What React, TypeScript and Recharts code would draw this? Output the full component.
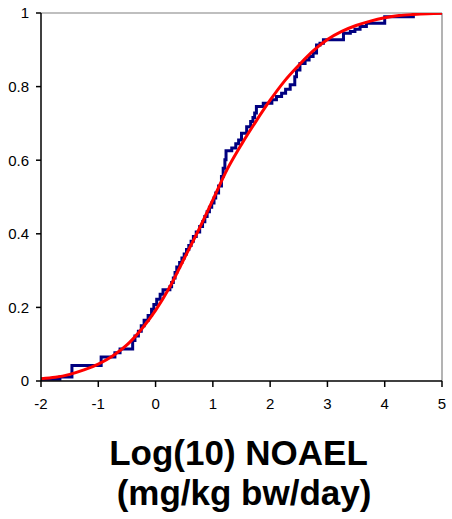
import React from "react";
import { LineChart, Line, XAxis, YAxis, ReferenceLine } from "recharts";

// Empirical distribution (step line): x = log10 NOAEL, y = cumulative fraction
const stepX = [
  -2.0, -1.67, -1.46, -0.95, -0.71, -0.62, -0.4, -0.36, -0.3, -0.25, -0.2, -0.13, -0.07, -0.03,
  0.02, 0.08, 0.13, 0.25, 0.28, 0.31, 0.34, 0.37, 0.42, 0.46, 0.5, 0.54, 0.58, 0.62, 0.66, 0.71,
  0.77, 0.82, 0.86, 0.9, 0.94, 0.98, 1.02, 1.05, 1.1, 1.15, 1.18, 1.21, 1.23, 1.33, 1.4, 1.45,
  1.5, 1.59, 1.66, 1.7, 1.73, 1.76, 1.88, 2.03, 2.11, 2.2, 2.27, 2.35, 2.43, 2.46, 2.52, 2.61,
  2.68, 2.75, 2.81, 2.87, 2.93, 3.28, 3.4, 3.48, 3.57, 3.68, 4.0, 4.5, 5.0,
];
const stepY = [
  0.005, 0.011, 0.042, 0.065, 0.077, 0.087, 0.11, 0.122, 0.135, 0.15, 0.165, 0.178, 0.195, 0.208,
  0.222, 0.236, 0.248, 0.256, 0.268, 0.28, 0.295, 0.31, 0.322, 0.334, 0.345, 0.357, 0.368, 0.38, 0.393, 0.405,
  0.42, 0.433, 0.447, 0.46, 0.472, 0.484, 0.497, 0.511, 0.53, 0.556, 0.578, 0.601, 0.626, 0.633, 0.645, 0.655,
  0.673, 0.691, 0.705, 0.716, 0.728, 0.746, 0.755, 0.764, 0.773, 0.782, 0.793, 0.805, 0.827, 0.845, 0.863, 0.872,
  0.882, 0.891, 0.913, 0.918, 0.927, 0.945, 0.95, 0.956, 0.963, 0.972, 0.99, 1.0, 1.0,
];

// Fitted distribution (smooth red curve)
const fitX = [
  -2, -1.75, -1.5, -1.25, -1, -0.75, -0.5, -0.25, 0, 0.25, 0.5, 0.75, 1, 1.25, 1.5, 1.75, 2,
  2.25, 2.5, 2.75, 3, 3.25, 3.5, 3.75, 4, 4.25, 4.5, 4.75, 5,
];
const fitY = [
  0.006, 0.01, 0.018, 0.03, 0.046, 0.068, 0.098, 0.14, 0.192, 0.256, 0.333, 0.41, 0.492, 0.575,
  0.643, 0.705, 0.763, 0.815, 0.858, 0.897, 0.928, 0.95, 0.966, 0.978, 0.987, 0.993, 0.996, 0.998, 0.999,
];

const xTicks = [-2, -1, 0, 1, 2, 3, 4, 5];
const yTicks = [0, 0.2, 0.4, 0.6, 0.8, 1];
const titleLines = ["Log(10) NOAEL", "(mg/kg bw/day)"];

const stepData = stepX.map((x, i) => ({ x, y: stepY[i] }));
const fitData = fitX.map((x, i) => ({ x, y: fitY[i] }));

const FONT = "'Liberation Sans', Arial, sans-serif";

const Title = () => (
  <g>
    <text x={238.5} y={465} textAnchor="middle" fontFamily={FONT} fontWeight="bold" fontSize={35} fill="#000">
      {titleLines[0]}
    </text>
    <text x={244} y={505} textAnchor="middle" fontFamily={FONT} fontWeight="bold" fontSize={35} fill="#000">
      {titleLines[1]}
    </text>
  </g>
);

export default function App() {
  return (
    <div style={{ position: "absolute", left: 0, top: 0, background: "#fff" }}>
      <LineChart width={452} height={519} margin={{ top: 13, right: 10, left: 0, bottom: 108 }}>
        <XAxis
          dataKey="x"
          type="number"
          domain={[-2, 5]}
          ticks={xTicks}
          allowDataOverflow
          height={30}
          stroke="#000"
          strokeWidth={1.5}
          tickSize={6}
          tickMargin={11}
          tick={{ fill: "#000", fontSize: 15, fontFamily: FONT }}
          label={{ content: () => <Title /> }}
        />
        <YAxis
          type="number"
          domain={[0, 1]}
          ticks={yTicks}
          allowDataOverflow
          width={41}
          stroke="#000"
          strokeWidth={1.5}
          tickSize={5}
          tickMargin={7}
          tick={{ fill: "#000", fontSize: 15, fontFamily: FONT }}
        />
        <ReferenceLine y={1} stroke="#808080" strokeWidth={1.2} />
        <ReferenceLine x={5} stroke="#808080" strokeWidth={1.2} />
        <Line
          data={stepData}
          dataKey="y"
          type="stepAfter"
          stroke="#000080"
          strokeWidth={3}
          dot={false}
          isAnimationActive={false}
        />
        <Line
          data={fitData}
          dataKey="y"
          type="monotone"
          stroke="#ff0000"
          strokeWidth={3}
          dot={false}
          isAnimationActive={false}
        />
      </LineChart>
    </div>
  );
}
